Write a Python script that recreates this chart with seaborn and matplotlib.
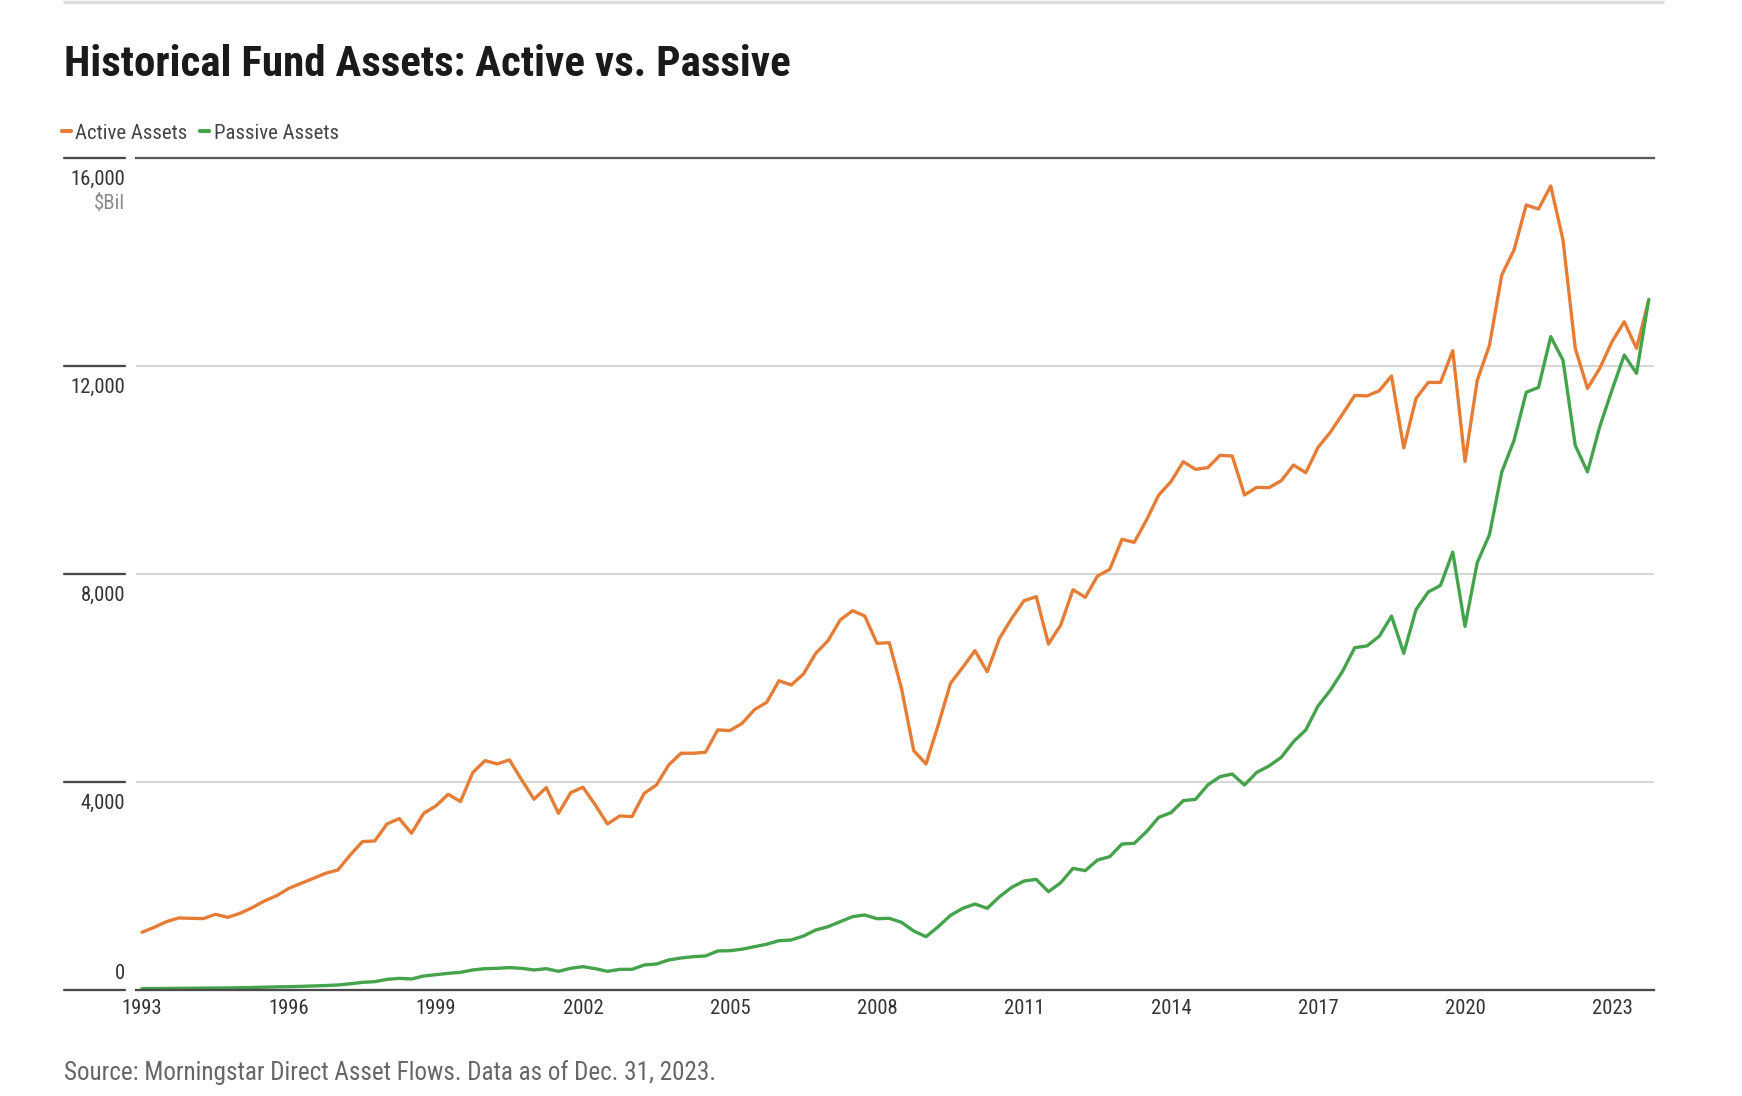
import numpy as np
import pandas as pd
import matplotlib
matplotlib.use('Agg')
import matplotlib.pyplot as plt
import matplotlib.transforms as mtransforms
from matplotlib import font_manager
from matplotlib.lines import Line2D
import seaborn as sns

# ---------------- data ----------------
years = list(range(1993, 2024))
active_assets = [
    1110, 1205, 1314, 1385,
    1378, 1372, 1455, 1397,
    1474, 1583, 1712, 1814,
    1955, 2051, 2147, 2244,
    2308, 2596, 2853, 2865,
    3192, 3295, 3013, 3397,
    3540, 3763, 3622, 4179,
    4410, 4346, 4423, 4038,
    3667, 3891, 3397, 3795,
    3897, 3558, 3192, 3346,
    3333, 3782, 3942, 4327,
    4551, 4551, 4571, 5000,
    4987, 5128, 5390, 5530,
    5946, 5863, 6075, 6472,
    6715, 7113, 7292, 7190,
    6664, 6677, 5799, 4601,
    4345, 5094, 5895, 6203,
    6523, 6119, 6760, 7145,
    7484, 7561, 6651, 7017,
    7695, 7548, 7958, 8087,
    8663, 8606, 9035, 9516,
    9772, 10156, 10009, 10041,
    10278, 10265, 9516, 9663,
    9657, 9791, 10092, 9945,
    10430, 10720, 11070, 11430,
    11420, 11520, 11803, 10420,
    11370, 11680, 11680, 12290,
    10160, 11720, 12397, 13745,
    14225, 15090, 15013, 15456,
    14418, 12335, 11566, 11951,
    12463, 12847, 12335, 13264,
]
passive_assets = [
    26, 28, 30, 32,
    34, 36, 38, 40,
    44, 48, 54, 60,
    64, 70, 78, 86,
    96, 120, 147, 160,
    205, 224, 212, 269,
    295, 320, 340, 385,
    410, 417, 430, 417,
    385, 410, 359, 417,
    449, 410, 359, 397,
    397, 481, 500, 577,
    615, 641, 654, 750,
    756, 785, 833, 880,
    948, 961, 1038, 1153,
    1217, 1314, 1410, 1442,
    1371, 1378, 1301, 1134,
    1025, 1217, 1435, 1570,
    1653, 1570, 1794, 1974,
    2095, 2127, 1890, 2063,
    2339, 2294, 2499, 2563,
    2807, 2819, 3044, 3319,
    3409, 3640, 3665, 3941,
    4101, 4152, 3941, 4184,
    4306, 4473, 4774, 4998,
    5459, 5760, 6125, 6580,
    6615, 6800, 7188, 6473,
    7313, 7651, 7778, 8418,
    6990, 8218, 8756, 9957,
    10563, 11490, 11585, 12560,
    12106, 10470, 9960, 10829,
    11534, 12207, 11855, 13277,
]
series_names = ['Active Assets', 'Passive Assets']
series_colors = ['#e67d36', '#45a34c']
y_ticks = [0, 4000, 8000, 12000, 16000]
y_tick_labels = ['0', '4,000', '8,000', '12,000', '16,000']
x_ticks = list(range(1993, 2024, 3))
x_tick_labels = [str(y) for y in x_ticks]
title_text = 'Historical Fund Assets: Active vs. Passive'
source_text = 'Source: Morningstar Direct Asset Flows. Data as of Dec. 31, 2023.'
unit_text = '$Bil'

quarters = [y + q / 4 for y in years for q in range(4)]
df = pd.DataFrame({
    'date': quarters + quarters,
    'value': active_assets + passive_assets,
    'series': [series_names[0]] * len(quarters) + [series_names[1]] * len(quarters),
})

# ---------------- fonts ----------------
sns.set_theme(style='white')
ttf = font_manager.fontManager.ttflist
names = {f.name for f in ttf}
stretch = 'normal'
family = None
for cand in ['Roboto Condensed', 'Liberation Sans Narrow', 'DejaVu Sans Condensed',
             'Noto Sans Condensed', 'Open Sans Condensed', 'Noto Sans Display Condensed']:
    if cand in names:
        family = cand
        break
if family is None:
    for cand in ['Noto Sans', 'Open Sans', 'Roboto', 'DejaVu Sans']:
        cond = [f for f in ttf if f.name == cand and str(f.stretch) in
                ('condensed', 'semi-condensed', 'extra-condensed', 'ultra-condensed', '75', '87.5', '62.5')]
        if cond:
            family = cand
            stretch = 'condensed'
            break
if family is None:
    family = 'Roboto' if 'Roboto' in names else 'DejaVu Sans'
plt.rcParams['font.family'] = [family, 'DejaVu Sans']
plt.rcParams['font.stretch'] = stretch

W, H = 1742, 1096
fig = plt.figure(figsize=(W / 100, H / 100), dpi=100)
fig.patch.set_facecolor('white')
renderer = fig.canvas.get_renderer()


def fit_size(s, target_px, **kw):
    t = fig.text(0, 0, s, fontsize=20, **kw)
    w = t.get_window_extent(renderer).width
    t.remove()
    return 20 * target_px / w


fs_title = min(fit_size(title_text, 725, fontweight='bold'), 34)
fs_tick = min(fit_size('16,000', 55), 17)
fs_leg = min(fit_size('Active Assets', 113), 17)
fs_src = min(fit_size(source_text, 652), 18.5)

L, R, T, B = 136, 1654, 157.7, 990
ax = fig.add_axes([L / W, 1 - B / H, (R - L) / W, (B - T) / H])

sns.lineplot(data=df, x='date', y='value', hue='series',
             palette=dict(zip(series_names, series_colors)),
             linewidth=2.4, ax=ax, legend=True)

ax.set_xlim(1992.878, 2023.857)
ax.set_ylim(0, 16000)
ax.set_xlabel('')
ax.set_ylabel('')

for s in ['left', 'right']:
    ax.spines[s].set_visible(False)
ax.spines['top'].set_visible(True)
ax.spines['top'].set_color('#5a5a5a')
ax.spines['top'].set_linewidth(1.65)
ax.spines['bottom'].set_color('#4a4a4a')
ax.spines['bottom'].set_linewidth(1.65)

ax.set_yticks(y_ticks)
ax.set_yticklabels([])
ax.tick_params(axis='y', length=0)
ax.yaxis.grid(True, color='#cccccc', linewidth=1.1)
ax.xaxis.grid(False)
ax.set_axisbelow(True)

ax.set_xticks(x_ticks)
ax.set_xticklabels(x_tick_labels)
ax.tick_params(axis='x', length=0, pad=6.5, labelsize=fs_tick, labelcolor='#333333')

# y labels and left stubs (figure x, data y)
btr = mtransforms.blended_transform_factory(fig.transFigure, ax.transData)
for v, lab in zip(y_ticks, y_tick_labels):
    fig.add_artist(Line2D([64 / W, 125 / W], [v, v], transform=btr,
                          color='#4a4a4a', linewidth=1.65))
    if v == 0:
        ax.annotate(lab, xy=(125 / W, v), xycoords=btr, xytext=(0, 7),
                    textcoords='offset pixels', ha='right', va='bottom',
                    fontsize=fs_tick, color='#333333', annotation_clip=False)
    else:
        ax.annotate(lab, xy=(125 / W, v), xycoords=btr, xytext=(0, -12),
                    textcoords='offset pixels', ha='right', va='top',
                    fontsize=fs_tick, color='#333333', annotation_clip=False)
ax.annotate(unit_text, xy=(125 / W, 16000), xycoords=btr, xytext=(0, -36),
            textcoords='offset pixels', ha='right', va='top',
            fontsize=fs_tick, color='#8a8a8a', annotation_clip=False)

# legend
handles, labels = ax.get_legend_handles_labels()
leg = ax.legend(handles, labels, loc='center left',
                bbox_to_anchor=(62 / W, 1 - 133 / H), bbox_transform=fig.transFigure,
                ncol=2, frameon=False, fontsize=fs_leg, handlelength=0.42,
                handletextpad=0.22, columnspacing=0.6, borderpad=0, borderaxespad=0)
for ln in leg.get_lines():
    ln.set_linewidth(3.0)
for t in leg.get_texts():
    t.set_color('#444444')

# top rule
fig.add_artist(Line2D([64 / W, 1663 / W], [1 - 1.5 / H, 1 - 1.5 / H],
                      transform=fig.transFigure, color='#dddddd', linewidth=2.4))

fig.text(64 / W, 1 - 76 / H, title_text, ha='left', va='baseline',
         fontsize=fs_title, fontweight='bold', color='#1a1a1a')

fig.text(64 / W, 1 - 1080 / H, source_text, ha='left', va='baseline',
         fontsize=fs_src, color='#666666')

fig.savefig('out.png', dpi=100, facecolor='white')
